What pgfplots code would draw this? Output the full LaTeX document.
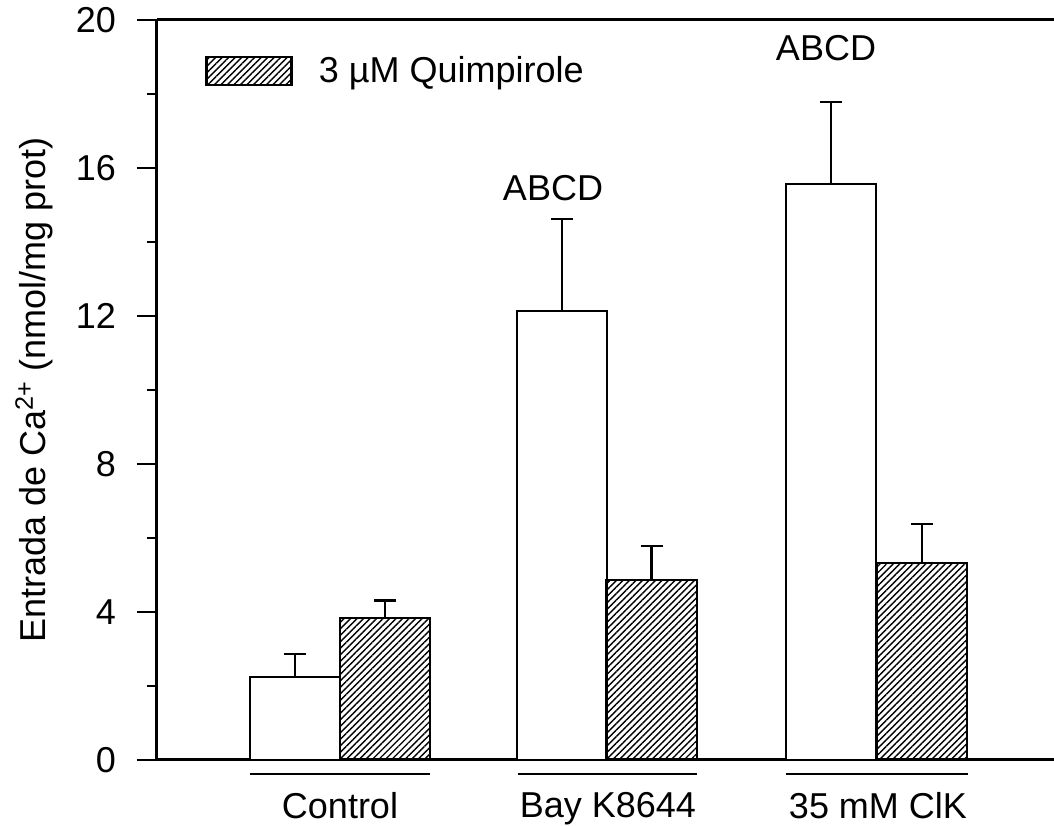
\documentclass[border=0pt]{standalone}
\usepackage{fontspec}
\setmainfont{Liberation Sans}
\usepackage{pgfplots}
\pgfplotsset{compat=1.18}
\usetikzlibrary{patterns.meta}
\newcommand{\ff}{\fontsize{18}{21}\selectfont}
\begin{document}
\begin{tikzpicture}[font=\ff]
\begin{axis}[
  x=0.5pt, y=18.5pt,
  xmin=157, xmax=1054, ymin=0, ymax=20,
  axis x line*=bottom, axis y line*=left,
  axis line style={line width=1.5pt},
  clip=false,
  ytick={0,4,8,12,16,20},
  minor ytick={2,6,10,14,18},
  tick align=outside,
  major tick length=10pt, minor tick length=5pt,
  every tick/.style={line width=1.2pt, black},
  xtick={340,608,878},
  xticklabels={Control, Bay K8644, 35 mM ClK},
  x tick style={draw=none},
  xticklabel style={font=\ff, yshift=-2.5pt},
  yticklabel style={font=\ff, xshift=-7pt},
  /pgf/number format/assume math mode=true,
  ylabel={Entrada de Ca\textsuperscript{2+} (nmol/mg prot)},
  ylabel style={font=\ff, at={(axis description cs:-0.137,0.5)}, anchor=center},
  legend style={draw=none, fill=none, at={(axis cs:205,18.62)}, anchor=west, inner sep=0pt, column sep=11pt, font=\ff},
  legend image code/.code={\draw[line width=1.2pt, pattern={Lines[angle=45,distance=2.3pt,line width=0.7pt]}] (0pt,-7pt) rectangle (42.5pt,7pt);},
  error bars/y dir=plus, error bars/y explicit,
  error bars/error bar style={line width=1.2pt},
  error bars/error mark options={rotate=90, mark size=5.5pt, line width=1.2pt},
]
\addplot[ybar, bar width=89.5, bar shift=0pt, draw=black, line width=1.2pt, fill=white, forget plot]
  coordinates {(295,2.25) +- (0,0.61) (562,12.14) +- (0,2.48) (831,15.57) +- (0,2.21)};
\addplot[ybar, bar width=90.5, bar shift=0pt, draw=black, line width=1.2pt, pattern={Lines[angle=45,distance=2.3pt,line width=0.7pt]}]
  coordinates {(385,3.83) +- (0,0.48) (651.5,4.86) +- (0,0.92) (922,5.32) +- (0,1.06)};
\addlegendentry{3 µM Quimpirole}
\draw[line width=1.5pt] (rel axis cs:0,1) -- (rel axis cs:1,1);
\draw[line width=1.2pt] (axis cs:250,-0.38) -- (axis cs:430,-0.38);
\draw[line width=1.2pt] (axis cs:518,-0.38) -- (axis cs:697,-0.38);
\draw[line width=1.2pt] (axis cs:786,-0.38) -- (axis cs:968,-0.38);
\node at (axis cs:553,15.46) {ABCD};
\node at (axis cs:826,19.24) {ABCD};
\coordinate (bbA) at (axis cs:0,-1.784);
\coordinate (bbB) at (axis cs:1054,20.54);
\end{axis}
\pgfresetboundingbox
\path[use as bounding box] (bbA) rectangle (bbB);
\end{tikzpicture}
\end{document}
